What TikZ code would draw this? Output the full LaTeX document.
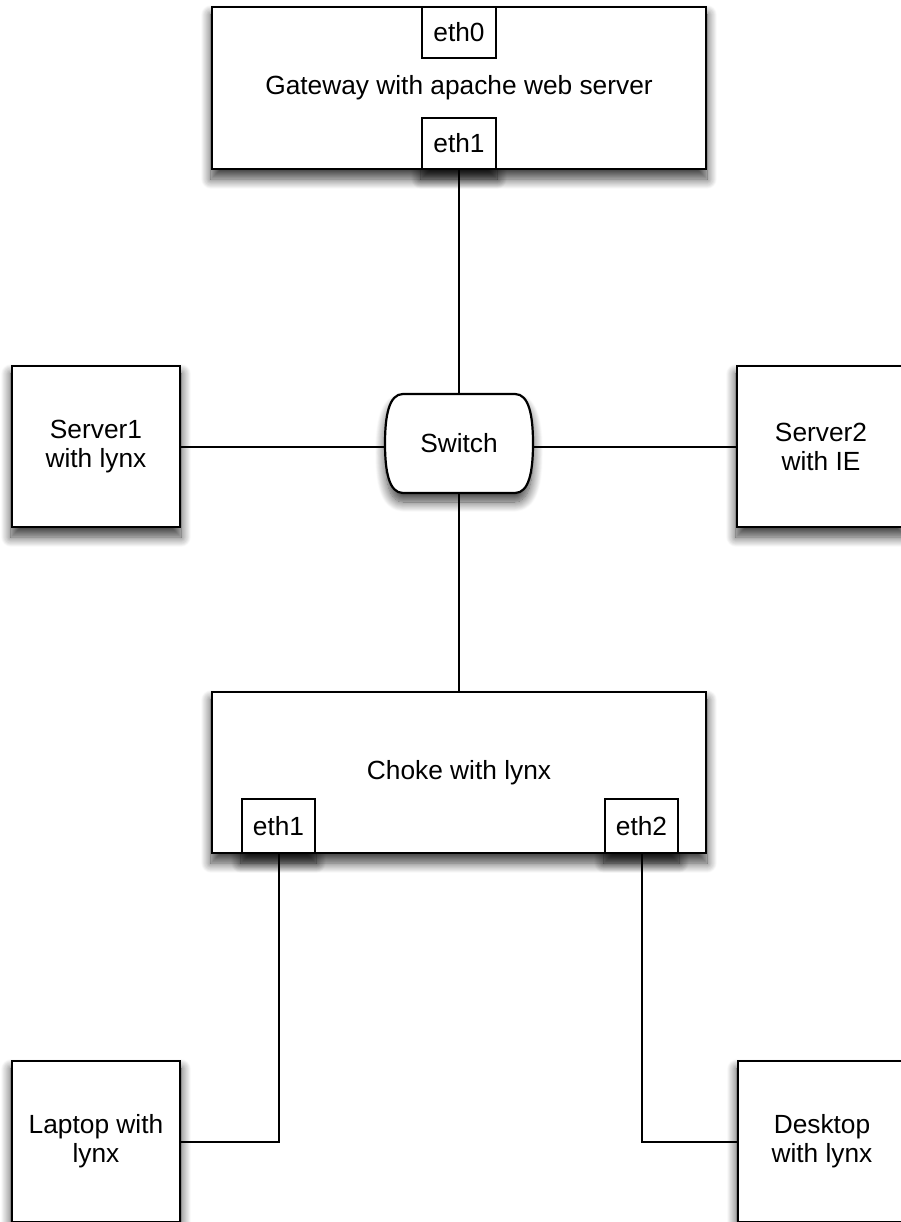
\documentclass[tikz,border=0pt]{standalone}
\usepackage{fontspec}
\setmainfont{Liberation Sans}
\usetikzlibrary{calc,shadows.blur}
\pgfdeclarelayer{bg}
\pgfsetlayers{bg,main}
\tikzset{
  box/.style={draw=black, line width=2.2pt, fill=white, inner sep=0pt,
    font=\fontsize{26.3}{29}\selectfont, align=center},
  port/.style={box, minimum width=74pt, minimum height=51pt},
  host/.style={box, minimum width=168pt, minimum height=161pt},
  wire/.style={draw=black, line width=2pt},
  shade/.style={blur shadow={shadow xshift=0pt, shadow yshift=-9pt,
    shadow blur radius=10pt, shadow opacity=75, shadow blur steps=14}},
}
\newcommand{\SwitchOutline}{($(sw)+(-56,-49.5)$) -- ($(sw)+(56,-49.5)$)
  .. controls ($(sw)+(70,-49.5)$) and ($(sw)+(74,-28)$) .. ($(sw)+(74,0)$)
  .. controls ($(sw)+(74,28)$) and ($(sw)+(70,49.5)$) .. ($(sw)+(56,49.5)$)
  -- ($(sw)+(-56,49.5)$)
  .. controls ($(sw)+(-70,49.5)$) and ($(sw)+(-74,28)$) .. ($(sw)+(-74,0)$)
  .. controls ($(sw)+(-74,-28)$) and ($(sw)+(-70,-49.5)$) .. cycle}
\begin{document}
\begin{tikzpicture}[x=1pt,y=-1pt]
\useasboundingbox (0,0) rectangle (901,1222);
% nodes
\node[box, minimum width=494pt, minimum height=162pt] (gw) at (459,88) {Gateway with apache web server};
\node[port] (gw0) at (459,32.5) {eth0};
\node[port] (gw1) at (459,143.5) {eth1};
\node[inner sep=0pt, minimum width=148pt, minimum height=99pt] (sw) at (459,443.5) {};
\draw[line width=2.2pt, fill=white] \SwitchOutline;
\node[font=\fontsize{26.3}{29}\selectfont] (swlabel) at (sw) {Switch};
\node[host] (s1) at (96,446.5) {Server1\\with lynx};
\node[host] (s2) at (821,446.5) {Server2\\with IE};
\node[box, minimum width=494pt, minimum height=161pt] (ch) at (459,772.5) {Choke with lynx};
\node[port, minimum width=73pt, minimum height=54pt] (ch1) at (278.5,826) {eth1};
\node[port, minimum width=73pt, minimum height=54pt] (ch2) at (641.5,826) {eth2};
\node[host] (lap) at (96,1141.5) {Laptop with\\lynx};
\node[host] (desk) at (822,1141.5) {Desktop\\with lynx};
% shadows
\begin{pgfonlayer}{bg}
\foreach \n in {gw,gw1,s1,s2,ch,ch1,ch2,lap,desk}
  \path[shade] (\n.south west) rectangle (\n.north east);
\path[shade] \SwitchOutline;
\end{pgfonlayer}
% connectors
\draw[wire] (gw1.south) -- (sw.north);
\draw[wire] (s1.east) -- (s1.east -| sw.west);
\draw[wire] (s2.west) -- (s2.west -| sw.east);
\draw[wire] (sw.south) -- (ch.north);
\draw[wire] (ch1.south) |- (lap.east);
\draw[wire] (ch2.south) |- (desk.west);
\end{tikzpicture}
\end{document}
